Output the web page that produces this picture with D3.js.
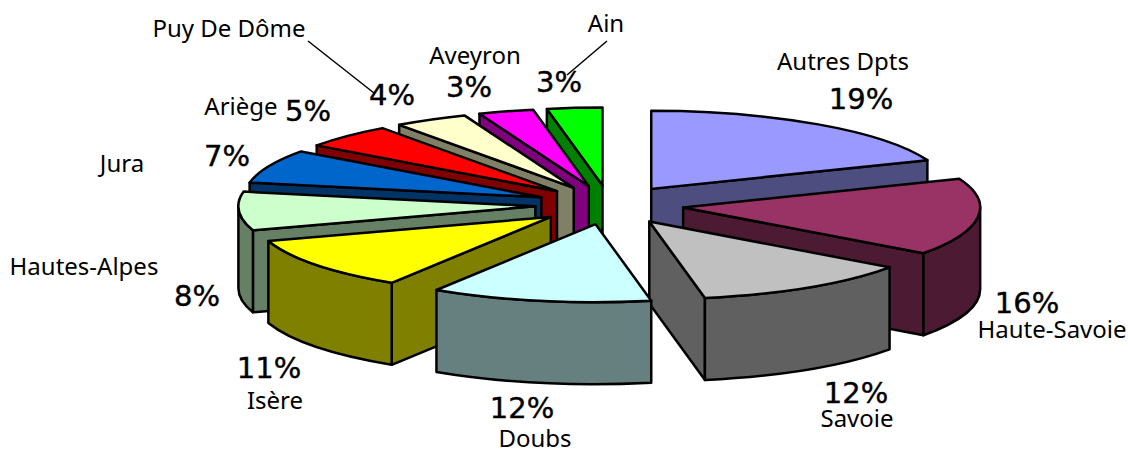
<!DOCTYPE html>
<html>
<head>
<meta charset="utf-8">
<script src="https://cdn.jsdelivr.net/npm/d3@7"></script>
<style>
  body { margin: 0; background: #fff; }
  text { fill: #000; text-anchor: middle; }
  .name { font-family: "Noto Sans", sans-serif; font-size: 24px; }
  .pct { font-family: "DejaVu Sans", sans-serif; font-size: 29px; stroke: #000; stroke-width: .4px; }
</style>
</head>
<body>
<script>
const width = 1128;
const height = 450;

const names = ['Autres Dpts', 'Haute-Savoie', 'Savoie', 'Doubs', 'Isère', 'Hautes-Alpes', 'Jura', 'Ariège', 'Puy De Dôme', 'Aveyron', 'Ain'];
const values = [19, 16, 12, 12, 11, 8, 7, 5, 4, 3, 3];
const topColors = ['#9999ff', '#993366', '#c0c0c0', '#ccffff', '#ffff00', '#ccffcc', '#0066cc', '#ff0000', '#ffffcc', '#ff00ff', '#00ff00'];
const sideColors = ['#4d4d80', '#4d1a33', '#606060', '#668080', '#808000', '#668066', '#003366', '#800000', '#808066', '#800080', '#008000'];

// back to front
const drawOrder = [0, 1, 2, 10, 9, 8, 7, 6, 5, 4, 3];

// label anchors, same order as names
const namePos = [[843, 70], [1052, 338], [857, 427], [535, 447], [275, 409], [84, 275], [122, 172], [241, 115], [229, 37], [475, 64], [606, 32]];
const pctPos = [[861, 109], [1027, 313], [856, 403], [522, 418], [269, 378], [197, 306], [227, 166], [308, 121], [392, 105], [469, 97], [559, 92]];
const leaders = [[[308, 41], [374, 93]], [[607, 41], [567, 75]]];

const cx = 609.5, cy = 205, rx = 297, ry = 78, depth = 82, explode = 0.25;

const x = d3.scaleLinear().domain([-1, 1]).range([-rx, rx]);
const y = d3.scaleLinear().domain([-1, 1]).range([ry, -ry]);

const svg = d3.select('body')
              .append('svg')
              .attr('width', width)
              .attr('height', height);

const arcs = d3.pie().sort(null)(values);

// angle is clockwise from the back of the pie
const pt = (o, a) => [o[0] + x(Math.sin(a)), o[1] + y(Math.cos(a))];
const down = p => [p[0], p[1] + depth];
const ell = (p) => `A${rx},${ry} 0 0 1 ${p}`;
const ellBack = (p) => `A${rx},${ry} 0 0 0 ${p}`;

const g = svg.append('g')
  .attr('stroke', '#000')
  .attr('stroke-width', 2.5)
  .attr('stroke-linejoin', 'round');

drawOrder.forEach(i => {
  const d = arcs[i];
  const mid = (d.startAngle + d.endAngle) / 2;
  const apex = [cx + explode * x(Math.sin(mid)), cy + explode * y(Math.cos(mid))];
  const a0 = pt(apex, d.startAngle);
  const a1 = pt(apex, d.endAngle);
  const slice = g.append('g').datum(d);

  // radial faces that look at the viewer
  [[d.startAngle, Math.sin(d.startAngle) < -1e-6], [d.endAngle, Math.sin(d.endAngle) > 1e-6]].forEach(([a, show]) => {
    if (!show) return;
    const p = pt(apex, a);
    slice.append('path')
      .attr('fill', sideColors[i])
      .attr('d', `M${apex}L${p}L${down(p)}L${down(apex)}Z`);
  });

  // outer wall, front half only
  const w0 = Math.max(d.startAngle, Math.PI / 2);
  const w1 = Math.min(d.endAngle, Math.PI * 1.5);
  if (w1 > w0) {
    const p0 = pt(apex, w0), p1 = pt(apex, w1);
    slice.append('path')
      .attr('fill', sideColors[i])
      .attr('d', `M${p0}${ell(p1)}L${down(p1)}${ellBack(down(p0))}Z`);
  }

  slice.append('path')
    .attr('fill', topColors[i])
    .attr('d', `M${apex}L${a0}${ell(a1)}Z`);
});

svg.append('g')
  .selectAll('text')
  .data(names)
  .join('text')
    .attr('class', 'name')
    .attr('x', (d, i) => namePos[i][0])
    .attr('y', (d, i) => namePos[i][1])
    .text(d => d);

svg.append('g')
  .selectAll('text')
  .data(values)
  .join('text')
    .attr('class', 'pct')
    .attr('x', (d, i) => pctPos[i][0])
    .attr('y', (d, i) => pctPos[i][1])
    .text(d => d + '%');

svg.append('g')
  .selectAll('line')
  .data(leaders)
  .join('line')
    .attr('stroke', '#000')
    .attr('stroke-width', 1.5)
    .attr('x1', d => d[0][0])
    .attr('y1', d => d[0][1])
    .attr('x2', d => d[1][0])
    .attr('y2', d => d[1][1]);
</script>
</body>
</html>
